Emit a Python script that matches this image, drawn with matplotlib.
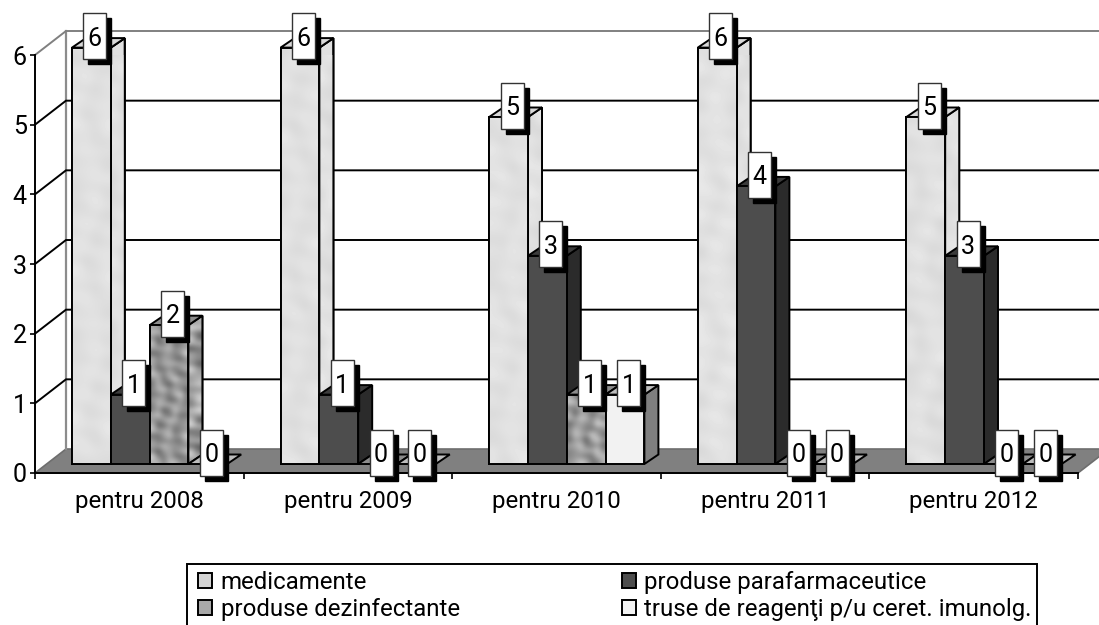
import numpy as np
import matplotlib
matplotlib.use("Agg")
import matplotlib.pyplot as plt
from matplotlib.patches import Patch, Polygon, Rectangle

categories = ["pentru 2008", "pentru 2009", "pentru 2010", "pentru 2011", "pentru 2012"]
series_names = ["medicamente", "produse parafarmaceutice",
                "produse dezinfectante", "truse de reagenţi p/u ceret. imunolg."]
medicamente = [6, 6, 5, 6, 5]
parafarmaceutice = [1, 1, 3, 4, 3]
dezinfectante = [2, 0, 1, 0, 0]
truse = [0, 0, 1, 0, 0]
y_ticks = [0, 1, 2, 3, 4, 5, 6]

W, H = 1099, 625
plt.rcParams["font.family"] = ["Roboto", "DejaVu Sans"]
FS = 18
FS_TEXT = 17.3

# pixel sizes of the plot, the chart has a fake 3d look
left, right, top, bottom = 35, 1078, 55, 473
px_x = (right - left) / len(categories)
px_y = (bottom - top) / 6.0

wall_dx, wall_dy = 31 / px_x, 24 / px_y
bar_dx, bar_dy = 14 / px_x, 9.5 / px_y
bar_w = 38.8 / px_x
bar_x0, bar_y0 = 37 / px_x, 9 / px_y
bar_scale = 69.4 / px_y
LW = 1.4

styles = [
    {"front": "#dcdcdc", "side": "#e0e0e0", "top": "#d8d8d8", "tex": (212, 236), "cell": 9},
    {"front": "#4d4d4d", "side": "#2b2b2b", "top": "#3c3c3c", "tex": None, "cell": 0},
    {"front": "#9a9a9a", "side": "#a8a8a8", "top": "#8c8c8c", "tex": (85, 225), "cell": 5},
    {"front": "#f2f2f2", "side": "#7f7f7f", "top": "#bdbdbd", "tex": None, "cell": 0},
]


def add_texture(ax, extent, clip, st, zorder):
    # blotchy fill from crossed sines, not data
    ny = max(int((extent[3] - extent[2]) * px_y / st["cell"]), 4)
    nx = max(int((extent[1] - extent[0]) * px_x / st["cell"]), 2)
    yy, xx = np.mgrid[0:ny, 0:nx]
    xx = xx + extent[0] * 37
    z = (np.sin(xx * 1.9 + np.sin(yy * 0.37) * 2.1) + np.sin(yy * 2.3 + xx * 0.61)
         + np.sin((xx + yy * 1.4) * 1.13 + 1.7) * np.sin((xx - yy) * 2.71))
    z = (z - z.min()) / (z.max() - z.min())
    img = st["tex"][0] + z * (st["tex"][1] - st["tex"][0])
    im = ax.imshow(img, extent=extent, origin="lower", cmap="gray", vmin=0, vmax=255,
                   interpolation="bicubic", aspect="auto", zorder=zorder)
    im.set_clip_path(clip)


def bar_3d(ax, x, v, st, zorder):
    x1 = x + bar_w
    y0 = bar_y0
    h = v * bar_scale
    y1 = y0 + h
    edge = dict(edgecolor="black", linewidth=LW, clip_on=False, zorder=zorder, joinstyle="miter")
    if v > 0:
        side = [(x1, y0), (x1 + bar_dx, y0 + bar_dy), (x1 + bar_dx, y1 + bar_dy), (x1, y1)]
        p = Polygon(side, facecolor=st["side"], **edge)
        ax.add_patch(p)
        if st["tex"] is not None:
            add_texture(ax, (x1, x1 + bar_dx, y0, y1 + bar_dy), p, st, zorder)
            ax.add_patch(Polygon(side, facecolor="none", **edge))
    ax.add_patch(Polygon([(x, y1), (x + bar_dx, y1 + bar_dy), (x1 + bar_dx, y1 + bar_dy), (x1, y1)],
                         facecolor=st["top"], **edge))
    if v > 0:
        bars = ax.bar(x, h, width=bar_w, bottom=y0, align="edge", color=st["front"],
                      clip_on=False, zorder=zorder, edgecolor="black", linewidth=LW)
        if st["tex"] is not None:
            add_texture(ax, (x, x1, y0, y1), bars[0], st, zorder)
            ax.bar(x, h, width=bar_w, bottom=y0, align="edge", color="none",
                   clip_on=False, zorder=zorder, edgecolor="black", linewidth=LW)


fig = plt.figure(figsize=(W / 100, H / 100), dpi=100)
ax = fig.add_axes([left / W, 1 - bottom / H, (right - left) / W, (bottom - top) / H])
ax.patch.set_visible(False)

for s in ["top", "right"]:
    ax.spines[s].set_visible(False)
for s in ["left", "bottom"]:
    ax.spines[s].set_linewidth(LW)
    ax.spines[s].set_zorder(3)

n = len(categories)
ax.set_yticks(y_ticks)
ax.tick_params(axis="y", direction="out", length=3.5, width=1.2, labelsize=FS, pad=2.5)
ax.set_xticks(range(n + 1))
ax.set_xticklabels([])
ax.set_xticks(np.arange(n) + 0.5, categories, minor=True)
ax.tick_params(axis="x", which="major", direction="out", length=4, width=1.2)
ax.tick_params(axis="x", which="minor", length=0, labelsize=FS_TEXT, pad=12)

# floor and back wall
ax.add_patch(Polygon([(0, 0), (wall_dx, wall_dy), (n + wall_dx, wall_dy), (n, 0)],
                     facecolor="#808080", edgecolor="#6e6e6e", linewidth=1.2, clip_on=False, zorder=1))
ax.plot([wall_dx, wall_dx], [wall_dy, 6 + wall_dy], color="#8c8c8c", lw=1.6, clip_on=False, zorder=1)
for v in y_ticks[1:]:
    c = "#808080" if v == 6 else "black"
    ax.plot([0, wall_dx, n + wall_dx], [v, v + wall_dy, v + wall_dy], color=c, lw=1.4,
            clip_on=False, zorder=1, solid_joinstyle="miter")

all_series = [medicamente, parafarmaceutice, dezinfectante, truse]
zo = 4
for g in range(n):
    for k, vals in enumerate(all_series):
        bar_3d(ax, g + bar_x0 + k * bar_w, vals[g], styles[k], zo)
        zo += 1

# value boxes with the black shadow
box_w, box_h = 23 / px_x, 46 / px_y
shadow_x, shadow_y = 5 / px_x, 5 / px_y
for g in range(n):
    for k, vals in enumerate(all_series):
        cx = g + bar_x0 + (k + 0.5) * bar_w + 3.5 / px_x
        cy = bar_y0 + vals[g] * bar_scale + 11.5 / px_y
        ax.add_patch(Rectangle((cx - box_w / 2 + shadow_x, cy - box_h / 2 - shadow_y), box_w, box_h,
                               facecolor="black", edgecolor="black", clip_on=False, zorder=100))
        ax.add_patch(Rectangle((cx - box_w / 2, cy - box_h / 2), box_w, box_h, facecolor="white",
                               edgecolor="#333333", linewidth=1.0, clip_on=False, zorder=101))
        ax.text(cx, cy, str(vals[g]), ha="center", va="center_baseline", fontsize=FS, zorder=102, clip_on=False)

ax.set_ylim(0, 6)
ax.set_xlim(0, n)

handles = [Patch(facecolor="#d4d4d4", edgecolor="black", linewidth=1.4),
           Patch(facecolor="#a8a8a8", edgecolor="black", linewidth=1.4),
           Patch(facecolor="#4d4d4d", edgecolor="black", linewidth=1.4),
           Patch(facecolor="#f2f2f2", edgecolor="black", linewidth=1.4)]
labels = [series_names[0], series_names[2], series_names[1], series_names[3]]
# frame runs past the lower edge of the picture, the reference is cut there
fig.add_artist(Rectangle((186.5 / W, -20 / H), 850 / W, (20 + 61) / H, transform=fig.transFigure,
                         facecolor="white", edgecolor="black", linewidth=1.4))
leg = fig.legend(handles, labels, ncol=2, loc="upper left", mode="expand",
                 bbox_to_anchor=(198 / W, 0, 834 / W, 1 - 571 / H), borderaxespad=0, fontsize=FS_TEXT,
                 handlelength=0.58, handleheight=0.58, handletextpad=0.36, labelspacing=0.15,
                 borderpad=0, frameon=False)

fig.savefig("out.png", dpi=100)
